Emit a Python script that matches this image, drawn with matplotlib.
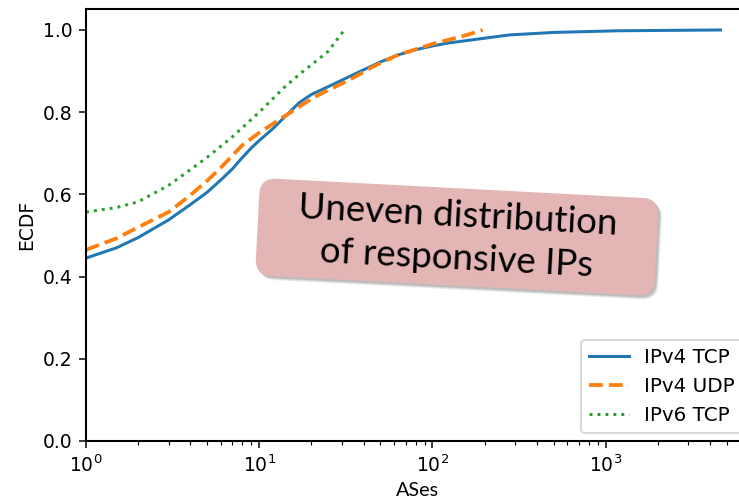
import matplotlib
matplotlib.use("Agg")
import matplotlib.pyplot as plt
from matplotlib.patches import FancyBboxPatch
from matplotlib.transforms import Affine2D

# Data
tcp4_x = [1, 1.5, 2, 3, 4, 5, 6, 7, 8, 9, 10, 12, 14, 17, 20, 25, 30, 40, 50, 63, 80,
          100, 122, 200, 280, 500, 1170, 4600]
tcp4_y = [0.445, 0.47, 0.495, 0.538, 0.575, 0.605, 0.635, 0.662, 0.69, 0.713, 0.731, 0.76,
          0.788, 0.823, 0.843, 0.862, 0.878, 0.903, 0.922, 0.939, 0.952, 0.961, 0.968,
          0.98, 0.988, 0.994, 0.998, 1.0]

udp4_x = [1, 1.5, 2, 3, 4, 5, 6, 8, 10, 14, 18, 22, 33, 45, 63, 100, 150, 195]
udp4_y = [0.465, 0.493, 0.52, 0.557, 0.598, 0.633, 0.665, 0.72, 0.75, 0.79, 0.82, 0.842,
          0.878, 0.91, 0.939, 0.966, 0.985, 1.0]

tcp6_x = [1, 1.5, 2, 3, 4, 5, 7, 10, 14, 17.4, 20, 25, 31]
tcp6_y = [0.557, 0.568, 0.582, 0.622, 0.66, 0.69, 0.74, 0.80, 0.861, 0.895, 0.915,
          0.948, 1.0]

series_labels = ["IPv4 TCP", "IPv4 UDP", "IPv6 TCP"]
note_text = "Uneven distribution\nof responsive IPs"

DPI = 135
fig = plt.figure(figsize=(739 / DPI, 501 / DPI), dpi=DPI)
ax = fig.add_axes([86 / 739, 60 / 501, 665 / 739, 432 / 501])

ax.plot(tcp4_x, tcp4_y, color="#1f77b4", lw=1.6, ls="-", label=series_labels[0])
ax.plot(udp4_x, udp4_y, color="#ff7f0e", lw=2.0, ls="--", label=series_labels[1])
ax.plot(tcp6_x, tcp6_y, color="#2ca02c", lw=1.6, ls=":", label=series_labels[2])

ax.set_xscale("log")
ax.set_xlim(1, 6900)
ax.set_ylim(0, 1.051)
ax.set_ylabel("ECDF")
ax.set_xlabel("ASes", family="Lato", fontsize=10.5)
ax.xaxis.set_label_coords((418 - 86) / 665, (441 - 482) / 432)
for s in ax.spines.values():
    s.set_linewidth(1.1)
ax.legend(loc="lower right", borderaxespad=0.4, fontsize=10.6)

# Annotation box (rotated rounded rectangle with shadow)
cx, cy = 457 / DPI, (501 - 237) / DPI
w, h = 394 / DPI, 92 / DPI
rot = Affine2D().rotate_deg_around(cx, cy, -3) + fig.dpi_scale_trans
for off, a in [((4, -4), 0.10), ((3, -3), 0.15), ((2, -2), 0.2)]:
    sh = FancyBboxPatch((cx - w / 2 + off[0] / DPI, cy - h / 2 + off[1] / DPI), w, h,
                        boxstyle="round,pad=0.02,rounding_size=0.12",
                        transform=rot, fc="#555555", ec="none", alpha=a, zorder=5)
    fig.add_artist(sh)
box = FancyBboxPatch((cx - w / 2, cy - h / 2), w, h,
                     boxstyle="round,pad=0.02,rounding_size=0.12",
                     transform=rot, fc="#e4b5b5", ec="none", zorder=6)
fig.add_artist(box)
fig.text(cx * DPI / 739, cy * DPI / 501, note_text, ha="center", va="center",
         rotation=-3, rotation_mode="anchor", family="Lato", fontsize=19.5,
         linespacing=1.35, color="black", zorder=7)

fig.savefig("out.png", dpi=DPI)
